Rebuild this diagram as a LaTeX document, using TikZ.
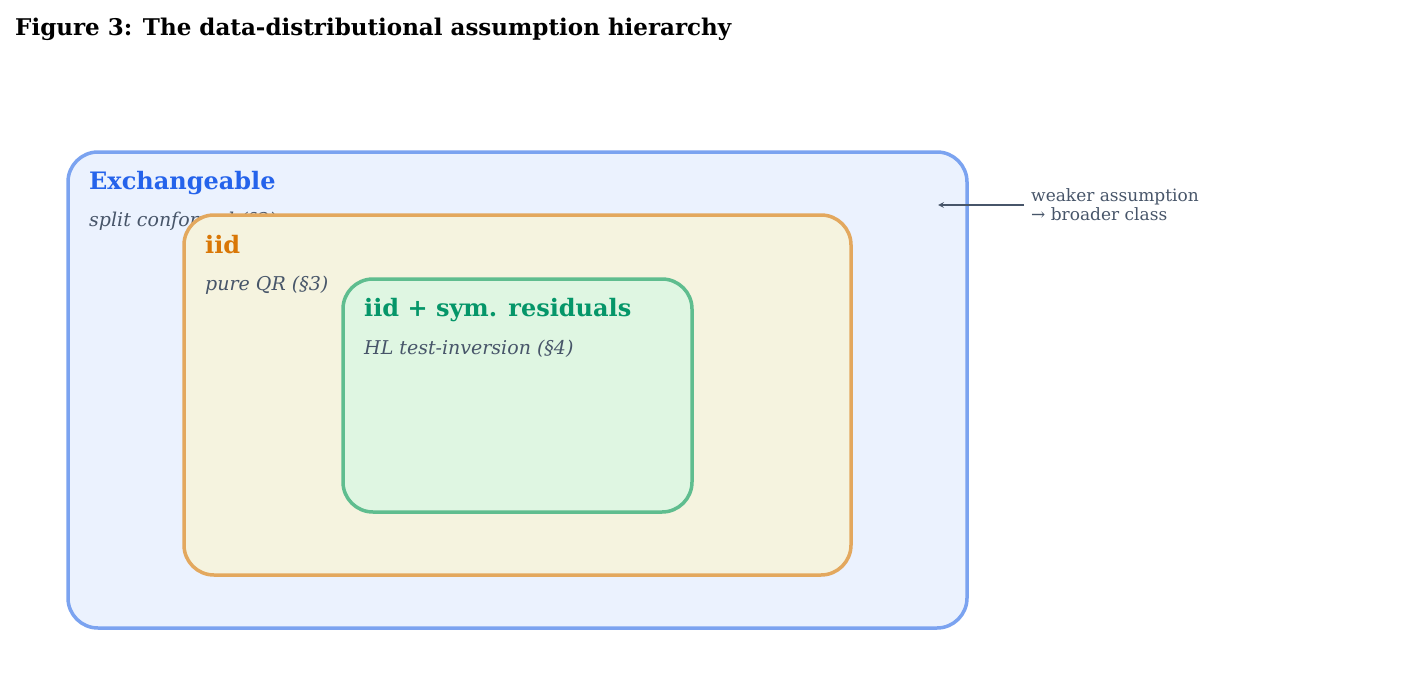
\documentclass[tikz,border=0pt]{standalone}
\usepackage{fontspec}
\setmainfont{DejaVu Serif}
\begin{document}
\begin{tikzpicture}[x=1pt,y=-1pt,
 box/.style={line width=3.5pt,rounded corners=30pt},
 lab/.style={anchor=base west,inner sep=0pt,font=\fontsize{24}{28}\selectfont\bfseries},
 sub/.style={anchor=base west,inner sep=0pt,font=\fontsize{19}{22}\selectfont\itshape,text=slate},
 side/.style={anchor=west,inner sep=0pt,font=\fontsize{17}{21}\selectfont,text=slate,align=left}]
\definecolor{slate}{HTML}{475569}
\useasboundingbox (0,0) rectangle (1405,696);
\node[anchor=base west,inner sep=0pt,font=\fontsize{23}{27}\selectfont\bfseries] (title) at (15,35) {Figure 3: The data-distributional assumption hierarchy};
\draw[box,draw=blue!50!cyan!60!white,draw={rgb,255:red,123;green,163;blue,240},fill={rgb,255:red,235;green,242;blue,254}] (68,152) rectangle (967,628);
\node[lab,text={rgb,255:red,37;green,99;blue,235}] (ex) at (89,189) {Exchangeable};
\node[sub] (exs) at (89,226) {split conformal (§2)};
\draw[box,draw={rgb,255:red,227;green,168;blue,94},fill={rgb,255:red,245;green,243;blue,223}] (184,215) rectangle (851,575);
\node[lab,text={rgb,255:red,217;green,119;blue,6}] (iid) at (205,253) {iid};
\node[sub] (iids) at (205,290) {pure QR (§3)};
\draw[box,draw={rgb,255:red,95;green,189;blue,143},fill={rgb,255:red,223;green,246;blue,226}] (343,279) rectangle (692,512);
\node[lab,text={rgb,255:red,5;green,150;blue,105}] (sym) at (364,316) {iid + sym. residuals};
\node[sub] (syms) at (364,354) {HL test-inversion (§4)};
\coordinate (a1) at (1024,205);
\coordinate (a2) at (938,205);
\draw[->,slate,line width=1.6pt,>=stealth] (a1) -- (a2);
\node[side] (w) at (1031,205) {weaker assumption\\[-2pt]→ broader class};
\end{tikzpicture}
\end{document}
